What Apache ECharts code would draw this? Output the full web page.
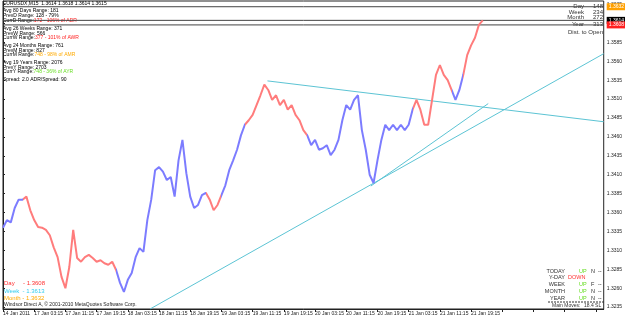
<!DOCTYPE html>
<html>
<head>
<meta charset="utf-8">
<script src="https://cdn.jsdelivr.net/npm/echarts@6/dist/echarts.min.js"></script>
<style>
    html, body {margin: 0; padding: 0; background: #fff;}
    #chartArea {width: 625px; height: 319px;}
</style>
</head>
<body>
<div id="chartArea"></div>
<script>
//EURUSD M15 close, one value per hour slot
var closes = [
    1.3340, 1.3350, 1.3347, 1.3366, 1.3377, 1.3377, 1.3381, 1.3363, 1.3350, 1.3341,
    1.3340, 1.3337, 1.3330, 1.3314, 1.3301, 1.3275, 1.3260, 1.3288, 1.3337, 1.3300,
    1.3295, 1.3301, 1.3304, 1.3300, 1.3295, 1.3297, 1.3293, 1.3291, 1.3295, 1.3284,
    1.3267, 1.3255, 1.3271, 1.3280, 1.3301, 1.3313, 1.3308, 1.3350, 1.3377, 1.3416,
    1.3420, 1.3414, 1.3403, 1.3407, 1.3381, 1.3429, 1.3456, 1.3412, 1.3381, 1.3366,
    1.3370, 1.3383, 1.3386, 1.3377, 1.3363, 1.3370, 1.3383, 1.3396, 1.3416, 1.3429,
    1.3443, 1.3462, 1.3476, 1.3482, 1.3489, 1.3502, 1.3515, 1.3529, 1.3522, 1.3509,
    1.3515, 1.3502, 1.3509, 1.3496, 1.3502, 1.3489, 1.3482, 1.3469, 1.3462, 1.3449,
    1.3456, 1.3443, 1.3445, 1.3449, 1.3436, 1.3443, 1.3456, 1.3482, 1.3502, 1.3496,
    1.3509, 1.3515, 1.3469, 1.3443, 1.3410, 1.3399, 1.3429, 1.3456, 1.3476, 1.3469,
    1.3476, 1.3469, 1.3476, 1.3469, 1.3476, 1.3496, 1.3509, 1.3496, 1.3476, 1.3476,
    1.3509, 1.3542, 1.3555, 1.3542, 1.3535, 1.3522, 1.3509, 1.3522, 1.3542, 1.3568,
    1.3581, 1.3591, 1.3608, 1.3614
];
var slotCount = 155;
//slot where the line colour changes (starts blue)
var colorBreaks = [4.6, 28.8, 52.3, 56.1, 61.7, 78.3, 104.8, 114.7, 117.8];
var xTicks = ['14 Jan 2011', '17 Jan 03:15', '17 Jan 11:15', '17 Jan 19:15', '18 Jan 03:15', '18 Jan 11:15',
    '18 Jan 19:15', '19 Jan 03:15', '19 Jan 11:15', '19 Jan 19:15', '20 Jan 03:15', '20 Jan 11:15',
    '20 Jan 19:15', '21 Jan 03:15', '21 Jan 11:15', '21 Jan 19:15'];
var yTicks = [1.3235, 1.3260, 1.3285, 1.3310, 1.3335, 1.3360, 1.3385, 1.3410, 1.3435, 1.3460,
    1.3485, 1.3510, 1.3535, 1.3560, 1.3585, 1.3610, 1.3635];
//trend lines: [slot, price] pairs
var trendLong = [[37.7, 1.32325], [154, 1.3570]];
var trendUpper = [[67.8, 1.3534], [154, 1.3480]];
var trendLower = [[94.3, 1.3395], [124.4, 1.3504]];
//month open, bid, day open
var levels = [1.3632, 1.3614, 1.3608];
var levelColors = ['#ffa000', '#000000', '#ff2020'];

var RED = '#ff7c7c';
var BLUE = '#7c7cff';
var TEAL = '#5cc4d4';
var FONT = 'Liberation Sans';

var dom = document.getElementById('chartArea');
var myChart = echarts.init(dom);

var categories = [];
for (var i = 0; i < slotCount; i++) {
    categories.push(String(i));
}

//visualMap pieces for red/blue line
var pieces = [];
var prev = -1;
for (var k = 0; k <= colorBreaks.length; k++) {
    var piece = {gt: prev, color: k % 2 === 0 ? BLUE : RED};
    if (k < colorBreaks.length) {
        piece.lte = colorBreaks[k];
        prev = colorBreaks[k];
    }
    pieces.push(piece);
}

function txt(x, y, text, color, size, align) {
    return {
        type: 'text', x: x, y: y, silent: true,
        style: {
            text: text, fill: color || '#000', fontSize: size || 5, fontFamily: FONT,
            align: align || 'left', verticalAlign: 'middle'
        }
    };
}

function richTxt(x, y, head, tail, color) {
    return {
        type: 'text', x: x, y: y, silent: true,
        style: {
            text: '{h|' + head + '}{t|' + tail + '}', fontSize: 5, fontFamily: FONT, verticalAlign: 'middle',
            rich: {
                h: {fill: '#000', color: '#000', fontSize: 5, fontFamily: FONT},
                t: {fill: color, color: color, fontSize: 5, fontFamily: FONT}
            }
        }
    };
}

var graphics = [
    txt(3, 4, 'EURUSDX,M15  1.3614 1.3618 1.3614 1.3615'),
    txt(3, 11, 'Avg 80 Days Range: 181'),
    txt(3, 16, 'PrevD Range: 128 - 79%'),
    richTxt(3, 21, 'CurrD Range:', '172 - 106% of ADR', '#ff2020'),
    txt(3, 29, 'Avg 26 Weeks Range: 371'),
    txt(3, 34, 'PrevW Range: 566'),
    richTxt(3, 38, 'CurrW Range:', '377 - 101% of AWR', '#ff2020'),
    txt(3, 46, 'Avg 24 Months Range: 761'),
    txt(3, 51, 'PrevM Range: 827'),
    richTxt(3, 55, 'CurrM Range:', '748 - 98% of AMR', '#ffaa00'),
    txt(3, 63, 'Avg 19 Years Range: 2076'),
    txt(3, 68, 'PrevY Range: 2703'),
    richTxt(3, 72, 'CurrY Range:', '748 - 36% of AYR', '#66dd22'),
    txt(3, 80, 'Spread: 2.0 ADR/Spread: 90'),

    txt(584, 6, 'Day', '#333', 6, 'right'), txt(603, 6, '148', '#333', 6, 'right'),
    txt(584, 12, 'Week', '#333', 6, 'right'), txt(603, 12, '234', '#333', 6, 'right'),
    txt(584, 17, 'Month', '#333', 6, 'right'), txt(603, 17, '272', '#333', 6, 'right'),
    txt(584, 24, 'Year', '#333', 6, 'right'), txt(603, 24, '313', '#333', 6, 'right'),
    txt(603, 32, 'Dist. to Open', '#333', 6, 'right'),

    txt(4, 283, 'Day     - 1.3608', '#ff3030', 6),
    txt(4, 291, 'Week  - 1.3613', '#33ccee', 6),
    txt(4, 298, 'Month - 1.3632', '#ffaa00', 6),
    txt(4, 305, 'Windsor Direct A, \u00a9 2001-2010 MetaQuotes Software Corp.', '#222', 5),

    txt(565, 271, 'TODAY', '#333', 5.5, 'right'), txt(579, 271, 'UP', '#66dd22', 5.5), txt(591, 271, 'N', '#333', 5.5), txt(598, 271, '--', '#333', 5.5),
    txt(565, 277, 'Y-DAY', '#333', 5.5, 'right'), txt(568, 277, 'DOWN', '#ff3030', 5.5),
    txt(565, 284, 'WEEK', '#333', 5.5, 'right'), txt(579, 284, 'UP', '#66dd22', 5.5), txt(591, 284, 'F', '#333', 5.5), txt(598, 284, '--', '#333', 5.5),
    txt(565, 291, 'MONTH', '#333', 5.5, 'right'), txt(579, 291, 'UP', '#66dd22', 5.5), txt(591, 291, 'N', '#333', 5.5), txt(598, 291, '--', '#333', 5.5),
    txt(565, 298, 'YEAR', '#333', 5.5, 'right'), txt(579, 298, 'UP', '#66dd22', 5.5), txt(591, 298, 'N', '#333', 5.5), txt(598, 298, '--', '#333', 5.5),
    {
        type: 'line', silent: true,
        shape: {x1: 548, y1: 302, x2: 604, y2: 302},
        style: {stroke: '#333', lineWidth: 1, lineDash: [2, 1]}
    },
    txt(552, 305.5, 'Main Moves:', '#333', 5),
    txt(584, 305.5, '18.4 SL', '#333', 5)
];

function trendSeries(pts) {
    return {
        type: 'line', xAxisIndex: 1, data: pts, showSymbol: false, silent: true,
        lineStyle: {color: TEAL, width: 1}, z: 3
    };
}

//horizontal price level with a price tag on the axis
function levelSeries(price, color) {
    return {
        type: 'line', xAxisIndex: 1, data: [[0, price], [slotCount - 1, price]],
        showSymbol: false, silent: true, z: 2,
        lineStyle: {color: '#444', width: 1},
        endLabel: {
            show: true, formatter: price.toFixed(4), distance: 3,
            color: '#fff', backgroundColor: color, fontSize: 5, fontFamily: FONT, padding: [1, 2]
        }
    };
}

var seriesList = [{
    type: 'line', data: closes, showSymbol: false, silent: true, z: 4,
    lineStyle: {width: 2}
},
    trendSeries(trendLong),
    trendSeries(trendUpper),
    trendSeries(trendLower)
];
for (var j = 0; j < levels.length; j++) {
    seriesList.push(levelSeries(levels[j], levelColors[j]));
}

var option = {
    animation: false,
    backgroundColor: '#fff',
    grid: {left: 2, right: 19, top: 1, bottom: 10, show: true, borderColor: '#222', borderWidth: 1},
    xAxis: [{
        type: 'category', data: categories, boundaryGap: false,
        axisLine: {lineStyle: {color: '#222'}},
        axisTick: {show: true, interval: 7, length: 3, lineStyle: {color: '#222'}},
        axisLabel: {
            interval: 7, align: 'left', margin: 2, fontSize: 5, fontFamily: FONT, color: '#222',
            formatter: function (value, index) {
                return xTicks[index / 8] || '';
            }
        },
        splitLine: {show: false}
    }, {
        type: 'value', min: 0, max: slotCount - 1, show: false
    }],
    yAxis: {
        type: 'value', position: 'right', min: 1.32325, max: 1.36396, scale: true,
        axisLine: {show: true, lineStyle: {color: '#222'}},
        axisTick: {show: true, length: 2, customValues: yTicks, lineStyle: {color: '#222'}},
        axisLabel: {
            customValues: yTicks, margin: 3, fontSize: 5, fontFamily: FONT, color: '#222',
            formatter: function (v) {
                return v.toFixed(4);
            }
        },
        splitLine: {show: false}
    },
    visualMap: {
        show: false, type: 'piecewise', dimension: 0, seriesIndex: 0, pieces: pieces
    },
    series: seriesList,
    graphic: graphics
};

myChart.setOption(option);
</script>
</body>
</html>
